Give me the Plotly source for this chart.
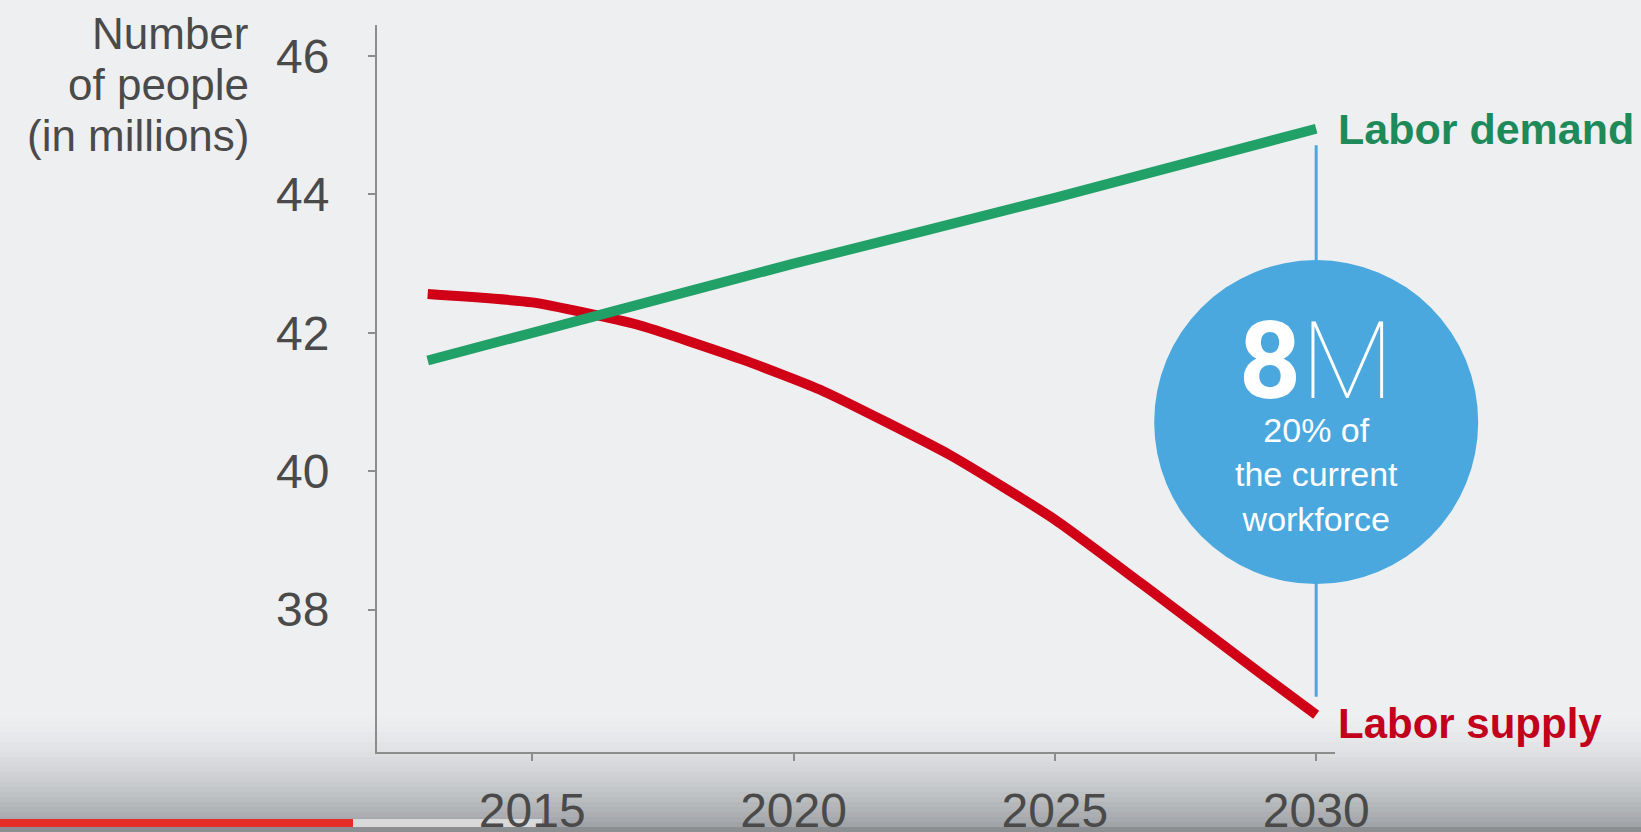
import plotly.graph_objects as go

# ---- data ----
demand_years = [2013, 2015, 2020, 2025, 2030]
demand_values = [41.6, 42.0, 43.0, 43.95, 44.95]

supply_years = [2013, 2015, 2017, 2019, 2020.5, 2023, 2025, 2027, 2029, 2030]
supply_values = [42.56, 42.44, 42.12, 41.62, 41.18, 40.23, 39.3, 38.18, 37.04, 36.48]

x_ticks = [2015, 2020, 2025, 2030]
y_ticks = [38, 40, 42, 44, 46]

gap_year = 2030
gap_top, gap_bottom = 44.71, 36.74
circle_value = 40.71
gap_big = "8M"
gap_lines = ["20% of", "the current", "workforce"]
y_title_lines = ["Number", "of people", "(in millions)"]

X_RANGE = [2012.03, 2030.36]
Y_RANGE = [35.94, 46.45]

# ---- layout helpers (pixel geometry) ----
W, H = 1641, 832
PL, PR, PT, PB = 377, 1335, 25, 752
pw, ph = PR - PL, PB - PT


def px(x):
    return (x - PL) / pw


def py(y):
    return (PB - y) / ph


def xp(v):  # data x -> paper
    return (v - X_RANGE[0]) / (X_RANGE[1] - X_RANGE[0])


def yp(v):  # data y -> paper
    return (v - Y_RANGE[0]) / (Y_RANGE[1] - Y_RANGE[0])


BG = "#eeeff1"
GREEN = "#21a068"
RED = "#d00016"
BLUE = "#4aa8de"
AXIS = "#8c8c8c"
TXT = "#4a4a4a"
SANS = "Liberation Sans, Arial, sans-serif"

fig = go.Figure()

fig.add_trace(go.Scatter(
    x=supply_years, y=supply_values, mode="lines",
    line=dict(color=RED, width=10, shape="spline", smoothing=0.5),
    hoverinfo="skip", showlegend=False, cliponaxis=False,
))
fig.add_trace(go.Scatter(
    x=demand_years, y=demand_values, mode="lines",
    line=dict(color=GREEN, width=10, shape="spline", smoothing=0.5),
    hoverinfo="skip", showlegend=False, cliponaxis=False,
))

shapes = []

# bottom video-player style gradient
n = 23
for i in range(n):
    y0 = 712 + i * 5
    y1 = y0 + 5
    a = 0.62 * ((i + 0.5) / n) ** 1.6
    shapes.append(dict(type="rect", xref="paper", yref="paper",
                       x0=px(0), x1=px(W), y0=py(y1), y1=py(y0),
                       fillcolor=f"rgba(110,114,118,{a:.3f})", line=dict(width=0),
                       layer="below"))
shapes.append(dict(type="rect", xref="paper", yref="paper",
                   x0=px(0), x1=px(W), y0=py(832), y1=py(827),
                   fillcolor="#8c8f92", line=dict(width=0), layer="below"))
shapes.append(dict(type="rect", xref="paper", yref="paper",
                   x0=px(353), x1=px(542), y0=py(827), y1=py(819),
                   fillcolor="#d9d9d9", line=dict(width=0), layer="below"))
shapes.append(dict(type="rect", xref="paper", yref="paper",
                   x0=px(0), x1=px(353), y0=py(827), y1=py(819),
                   fillcolor="#e52d27", line=dict(width=0), layer="below"))

# vertical gap line at 2030
shapes.append(dict(type="line", xref="x", yref="y",
                   x0=gap_year, x1=gap_year, y0=gap_top, y1=gap_bottom,
                   line=dict(color=BLUE, width=3), layer="below"))
# circle (paper refs so it is not clipped by the plot area)
shapes.append(dict(type="circle", xref="paper", yref="paper",
                   xsizemode="pixel", ysizemode="pixel",
                   xanchor=xp(gap_year), yanchor=yp(circle_value),
                   x0=-162, x1=162, y0=-162, y1=162,
                   fillcolor=BLUE, line=dict(width=0), layer="above"))

annotations = []
# y-axis title
for i, t in enumerate(y_title_lines):
    annotations.append(dict(text=t, xref="paper", yref="paper",
                            x=px(251), y=py(33 + i * 51.5), xanchor="right", yanchor="middle",
                            showarrow=False, font=dict(family=SANS, size=44, color=TXT)))
# series labels
annotations.append(dict(text="Labor demand", xref="x", yref="y",
                        x=gap_year, y=44.95, xanchor="left", yanchor="middle", xshift=20,
                        showarrow=False, font=dict(family=SANS, size=43, color="#1e8a5a", weight="bold")))
annotations.append(dict(text="Labor supply", xref="x", yref="y",
                        x=gap_year, y=36.35, xanchor="left", yanchor="middle", xshift=20,
                        showarrow=False, font=dict(family=SANS, size=42, color="#c2001c", weight="bold")))
# circle text: one block so the lines stack like the original
big = (f"<span style='font-size:108px;font-family:Roboto, Liberation Sans, sans-serif'>"
       f"<b>{gap_big[0]}</b><span style='font-weight:100'>{gap_big[1:]}</span></span>")
annotations.append(dict(text=big + "<br>" + "<br>".join(gap_lines), xref="x", yref="paper",
                        x=gap_year, y=py(418), xanchor="center", yanchor="middle", align="center",
                        showarrow=False, font=dict(family=SANS, size=34, color="white")))

axis_common = dict(showgrid=False, zeroline=False, showline=True, linecolor=AXIS, linewidth=2,
                   ticks="outside", ticklen=7, tickwidth=2, tickcolor=AXIS, automargin=False)

fig.update_layout(
    width=W, height=H,
    margin=dict(l=PL, r=W - PR, t=PT, b=H - PB, pad=0),
    paper_bgcolor=BG, plot_bgcolor="rgba(0,0,0,0)",
    shapes=shapes, annotations=annotations,
    xaxis=dict(range=X_RANGE, tickvals=x_ticks, ticktext=[str(v) for v in x_ticks],
               ticklabelstandoff=8, tickfont=dict(family=SANS, size=48, color=TXT), **axis_common),
    yaxis=dict(range=Y_RANGE, tickvals=y_ticks, ticktext=[str(v) for v in y_ticks],
               ticklabelstandoff=29, tickfont=dict(family=SANS, size=48, color=TXT), **axis_common),
)

post = (
    "document.documentElement.style.cssText='margin:0;padding:0;overflow:hidden;background:#eeeff1';"
    "document.body.style.cssText='margin:0;padding:0;overflow:hidden;background:#eeeff1';"
)

fig.write_html("out.html", config={"displayModeBar": False}, post_script=post)
